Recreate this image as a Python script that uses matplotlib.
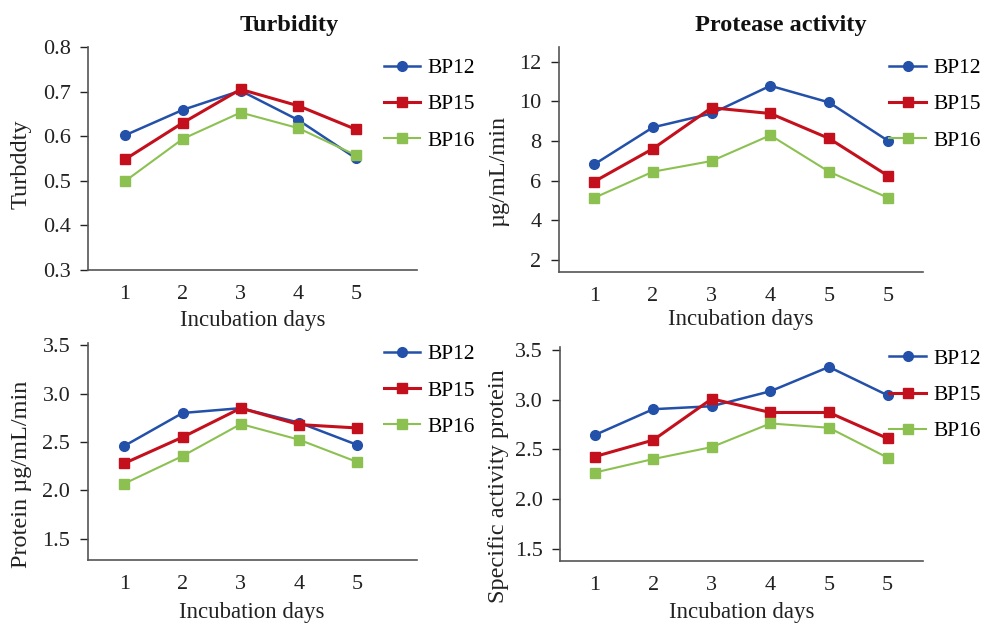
import matplotlib
matplotlib.use("Agg")
import matplotlib.pyplot as plt

plt.rcParams["font.family"] = ["Liberation Serif", "DejaVu Serif"]

series = ["BP12", "BP15", "BP16"]

# turbidity, days 1-5
turb_days = ["1", "2", "3", "4", "5"]
turb_bp12 = [0.602, 0.659, 0.702, 0.636, 0.550]
turb_bp15 = [0.548, 0.630, 0.705, 0.668, 0.615]
turb_bp16 = [0.499, 0.594, 0.653, 0.618, 0.557]

# protease activity (ug/mL/min)
prot_days = ["1", "2", "3", "4", "5", "5"]
prot_bp12 = [6.82, 8.69, 9.39, 10.79, 9.95, 8.02]
prot_bp15 = [5.95, 7.61, 9.68, 9.39, 8.13, 6.25]
prot_bp16 = [5.13, 6.45, 6.99, 8.29, 6.45, 5.14]

# protein
protein_days = ["1", "2", "3", "4", "5"]
protein_bp12 = [2.46, 2.80, 2.85, 2.70, 2.47]
protein_bp15 = [2.28, 2.55, 2.85, 2.68, 2.645]
protein_bp16 = [2.07, 2.355, 2.686, 2.524, 2.293]

# specific activity
spec_days = ["1", "2", "3", "4", "5", "5"]
spec_bp12 = [2.643, 2.903, 2.933, 3.083, 3.327, 3.043]
spec_bp15 = [2.427, 2.593, 3.007, 2.870, 2.870, 2.610]
spec_bp16 = [2.267, 2.403, 2.523, 2.760, 2.717, 2.417]

colors = ["#2350a8", "#c4101c", "#8cc152"]
markers = ["o", "s", "s"]
widths = [1.8, 2.2, 1.5]

fig = plt.figure(figsize=(9.82, 6.23), dpi=100)

panels = [
    # rect, days, values, ylim, yticks, fmt, xlim, title, ylabel, ylabel pos, xlabel y, legend anchor
    ([0.0896, 0.5666, 0.335, 0.358], turb_days, [turb_bp12, turb_bp15, turb_bp16],
     (0.3, 0.8), [0.3, 0.4, 0.5, 0.6, 0.7, 0.8], "{:.1f}", (0.36, 6.05),
     "Turbidity", "Turbddty", (-0.17, 0.473), -0.18, (0.899, 0.95)),
    ([0.5692, 0.5639, 0.3707, 0.3607], prot_days, [prot_bp12, prot_bp15, prot_bp16],
     (1.4, 12.75), [2, 4, 6, 8, 10, 12], "{:.0f}", (0.4, 6.6),
     "Protease activity", "µg/mL/min", (-0.137, 0.448), -0.168, (0.908, 0.95)),
    ([0.0893, 0.1011, 0.335, 0.3478], protein_days, [protein_bp12, protein_bp15, protein_bp16],
     (1.28, 3.52), [1.5, 2.0, 2.5, 3.0, 3.5], "{:.1f}", (0.37, 6.02),
     None, "Protein µg/mL/min", (-0.168, 0.397), -0.196, (0.9, 0.995)),
    ([0.5703, 0.0995, 0.3693, 0.344], spec_days, [spec_bp12, spec_bp15, spec_bp16],
     (1.38, 3.53), [1.5, 2.0, 2.5, 3.0, 3.5], "{:.1f}", (0.41, 6.6),
     None, "Specific activity protein", (-0.14, 0.35), -0.192, (0.908, 0.99)),
]

for rect, days, vals, ylim, yticks, fmt, xlim, title, ylabel, ylpos, xly, leg in panels:
    ax = fig.add_axes(rect)
    xs = list(range(1, len(days) + 1))
    for name, v, c, m, lw in zip(series, vals, colors, markers, widths):
        ax.plot(xs, v, color=c, marker=m, markersize=7, lw=lw, label=name)
    ax.set_xlim(*xlim)
    ax.set_ylim(*ylim)
    ax.set_xticks(xs)
    ax.set_xticklabels(days)
    ax.set_yticks(yticks)
    ax.set_yticklabels([fmt.format(t) for t in yticks])
    ax.tick_params(axis="x", length=0, pad=11, labelsize=16, colors="#222222")
    ax.tick_params(axis="y", length=5.5, width=1, pad=7, labelsize=16,
                   colors="#222222", direction="out")
    for s in ("top", "right"):
        ax.spines[s].set_visible(False)
    for s in ("left", "bottom"):
        ax.spines[s].set_color("#555555")
        ax.spines[s].set_linewidth(1.2)
    ax.set_ylabel(ylabel, fontsize=17.5, color="#222222")
    ax.yaxis.set_label_coords(*ylpos)
    ax.set_xlabel("Incubation days", fontsize=16.5, color="#222222")
    ax.xaxis.set_label_coords(0.5, xly)
    if title:
        ax.text(0.61, 1.07, title, transform=ax.transAxes, ha="center",
                va="baseline", fontsize=17.5, fontweight="bold", color="#111111")
    ax.legend(loc="upper left", bbox_to_anchor=leg, frameon=False, fontsize=15.5,
              handlelength=1.7, handletextpad=0.35, labelspacing=0.75,
              borderpad=0, borderaxespad=0)

fig.savefig("out.png", dpi=100)
